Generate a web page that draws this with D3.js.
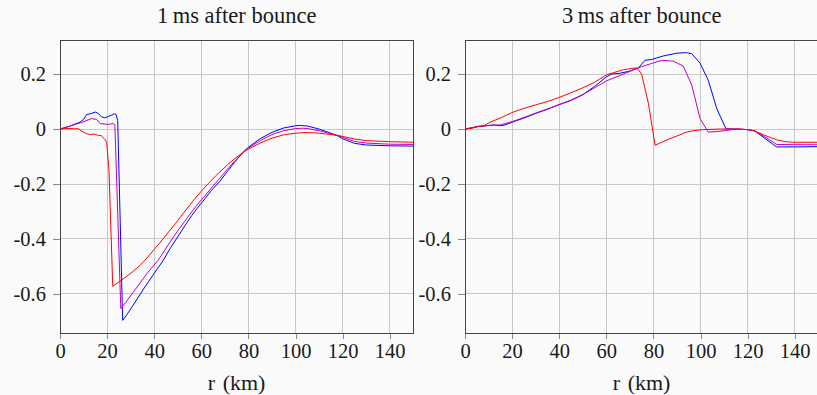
<!DOCTYPE html>
<html>
<head>
<meta charset="utf-8">
<script src="https://cdn.jsdelivr.net/npm/d3@7"></script>
<style>
  html, body { margin: 0; padding: 0; background: #fafafa; }
  svg { display: block; }
</style>
</head>
<body>
<svg id="chart" width="817" height="395"></svg>
<script>
// ---------- data ----------
const panelTitles = ["1\u2009ms after bounce", "3\u2009ms after bounce"];
const xTicks = [0, 20, 40, 60, 80, 100, 120, 140];
const yTicks = [0.2, 0, -0.2, -0.4, -0.6];
const xLabel = "r (km)";
const seriesColors = ["#0000ff", "#bf00bf", "#ff0000"];

// 1 ms after bounce  [r (km), value]
const left_blue = [[0,0],[2,0.005],[4,0.01],[6,0.017],[8.5,0.025],[10,0.035],[11.3,0.053],[13,0.056],[15.2,0.062],[16.3,0.056],[17.7,0.044],[19,0.041],[20.5,0.046],[21.8,0.05],[23.1,0.056],[23.8,0.053],[24.5,0.03],[26.6,-0.696],[28,-0.68],[30,-0.655],[33,-0.615],[36,-0.575],[40,-0.525],[43.9,-0.477],[46.7,-0.435],[50,-0.392],[53,-0.352],[56,-0.314],[59,-0.28],[61.6,-0.253],[64,-0.226],[67.9,-0.19],[71,-0.155],[74,-0.122],[77.8,-0.084],[80,-0.066],[85,-0.035],[90,-0.012],[95,0.004],[100,0.012],[102,0.013],[105,0.011],[110,0.0],[115,-0.015],[117.5,-0.023],[120,-0.035],[125,-0.052],[130,-0.058],[140,-0.061],[150,-0.062]];
const left_magenta = [[0,0],[2,0.005],[4,0.01],[6,0.016],[8.5,0.022],[11,0.03],[13.4,0.038],[15.5,0.035],[17,0.02],[19,0.018],[20.5,0.017],[22.6,0.02],[23.3,0.015],[25.8,-0.653],[28,-0.63],[31,-0.595],[34,-0.56],[37,-0.525],[41.7,-0.477],[44,-0.447],[46.7,-0.411],[50,-0.37],[53,-0.335],[56,-0.3],[59,-0.268],[62,-0.238],[65,-0.207],[68,-0.177],[71,-0.147],[74,-0.118],[77.8,-0.084],[80,-0.069],[85,-0.042],[90,-0.02],[95,-0.006],[100,0.002],[103,0.003],[105,0.002],[110,-0.006],[115,-0.017],[118,-0.024],[120,-0.03],[125,-0.045],[130,-0.051],[140,-0.055],[150,-0.056]];
const left_red = [[0,0],[3,0.002],[6,0.001],[7.8,0.001],[9.9,-0.011],[11.3,-0.017],[13,-0.02],[14.5,-0.018],[16.3,-0.023],[17.5,-0.024],[18.8,-0.035],[19.8,-0.047],[20.8,-0.15],[22.4,-0.572],[25,-0.556],[28,-0.538],[31,-0.518],[34,-0.496],[36.1,-0.477],[38,-0.458],[40,-0.438],[42,-0.418],[44,-0.397],[46.7,-0.368],[49,-0.344],[52,-0.31],[55,-0.278],[57.3,-0.253],[60,-0.226],[63,-0.198],[66,-0.171],[67.9,-0.156],[71,-0.131],[74,-0.109],[77.8,-0.084],[80,-0.073],[85,-0.051],[90,-0.033],[95,-0.021],[100,-0.015],[103,-0.013],[106,-0.013],[110,-0.015],[115,-0.02],[118,-0.023],[120,-0.027],[125,-0.036],[130,-0.042],[140,-0.046],[150,-0.048]];

// 3 ms after bounce  [r (km), value]
const right_blue = [[0,0],[3,0.005],[6,0.01],[9,0.012],[12,0.015],[15,0.012],[17,0.015],[20,0.025],[25,0.04],[30,0.057],[35,0.072],[40.3,0.09],[45,0.105],[50,0.125],[55,0.155],[57.3,0.171],[60,0.19],[62.3,0.2],[65.8,0.203],[70,0.211],[73.6,0.222],[76.4,0.25],[79.3,0.253],[84.2,0.266],[89.9,0.276],[94,0.278],[96.3,0.274],[99.8,0.24],[103.3,0.177],[106.9,0.074],[110.8,0.001],[115.4,0.0],[120,-0.002],[123.1,-0.007],[127,-0.032],[132.3,-0.065],[140,-0.065],[150,-0.064]];
const right_magenta = [[0,0],[3,0.005],[6,0.01],[9,0.012],[12,0.014],[15,0.015],[20,0.027],[25,0.042],[30,0.058],[35,0.073],[40.3,0.09],[45,0.104],[50,0.125],[55,0.15],[60,0.175],[62.3,0.183],[65.8,0.195],[70,0.21],[74.3,0.225],[79,0.238],[83.5,0.25],[88.5,0.247],[92.7,0.229],[96.3,0.159],[99.8,0.038],[103.3,-0.011],[107,-0.009],[111.1,-0.005],[115.4,0.0],[120,-0.002],[123.1,-0.007],[127,-0.027],[132.3,-0.056],[140,-0.057],[150,-0.057]];
const right_red = [[0,0],[3,0.003],[6,0.01],[8,0.012],[10.6,0.025],[15,0.04],[20.5,0.062],[25,0.075],[30,0.088],[35,0.1],[40.3,0.116],[45,0.132],[50,0.15],[55,0.17],[60.2,0.198],[63,0.205],[67.3,0.216],[72.9,0.223],[75,0.2],[77.9,0.092],[80.7,-0.059],[84,-0.046],[87,-0.035],[90,-0.025],[94.1,-0.011],[97,-0.006],[101.2,-0.002],[108.3,0.0],[115.4,0.0],[120,-0.002],[123.1,-0.007],[127,-0.022],[132.3,-0.039],[136,-0.046],[139.4,-0.048],[150,-0.048]];

const panelSeries = [
  [left_blue, left_magenta, left_red],
  [right_blue, right_magenta, right_red]
];

// ---------- layout ----------
const FONT = "Liberation Serif, Times New Roman, Tinos, DejaVu Serif, serif";
const svg = d3.select("#chart");
const plotTop = 40, plotBottom = 333;
const panelLefts = [60, 465];
const plotWidth = 353.3;
const xDomain = [0, 150];
const yDomain = [-0.742, 0.324];

const fmtY = v => v === 0 ? "0" : (v < 0 ? "-" : "") + Math.abs(v).toFixed(1);

panelSeries.forEach((series, p) => {
  const x0 = panelLefts[p];
  const x = d3.scaleLinear().domain(xDomain).range([x0, x0 + plotWidth]);
  const y = d3.scaleLinear().domain(yDomain).range([plotBottom, plotTop]);
  const g = svg.append("g");

  const clipId = "clip" + p;
  svg.append("defs").append("clipPath").attr("id", clipId)
    .append("rect").attr("x", x0).attr("y", plotTop)
    .attr("width", plotWidth).attr("height", plotBottom - plotTop);

  // grid
  const grid = g.append("g").attr("shape-rendering", "crispEdges")
    .attr("stroke", "#c8c8c8").attr("stroke-width", 1);
  xTicks.forEach(t => {
    grid.append("line").attr("x1", x(t)).attr("x2", x(t))
      .attr("y1", plotTop).attr("y2", plotBottom);
  });
  yTicks.forEach(t => {
    grid.append("line").attr("x1", x0).attr("x2", x0 + plotWidth)
      .attr("y1", y(t)).attr("y2", y(t));
  });

  // axes (outer ticks)
  const xAxis = d3.axisBottom(x).tickValues(xTicks).tickSize(6).tickPadding(4)
    .tickFormat(d => String(d));
  const gx = g.append("g").attr("transform", `translate(0,${plotBottom})`).call(xAxis);
  const yAxis = d3.axisLeft(y).tickValues(yTicks).tickSize(7).tickPadding(7)
    .tickFormat(fmtY);
  const gy = g.append("g").attr("transform", `translate(${x0},0)`).call(yAxis);
  [gx, gy].forEach(a => {
    a.attr("font-family", FONT).attr("font-size", 20.5);
    a.select(".domain").remove();
    a.selectAll(".tick line").attr("stroke", "#888").attr("shape-rendering", "crispEdges");
    a.selectAll(".tick text").attr("fill", "#1a1a1a");
  });
  gx.selectAll(".tick text").attr("dy", "0.75em");
  gy.selectAll(".tick text").attr("dy", "0.33em");

  // lines
  const line = d3.line().x(d => x(d[0])).y(d => y(d[1]));
  const lg = g.append("g").attr("clip-path", `url(#${clipId})`);
  series.forEach((s, i) => {
    lg.append("path").datum(s).attr("d", line)
      .attr("fill", "none").attr("stroke", seriesColors[i])
      .attr("stroke-width", 1).attr("stroke-linejoin", "round");
  });

  // frame
  g.append("rect").attr("x", x0).attr("y", plotTop)
    .attr("width", plotWidth).attr("height", plotBottom - plotTop)
    .attr("fill", "none").attr("stroke", "#444").attr("stroke-width", 1)
    .attr("shape-rendering", "crispEdges");

  // title and x label
  const cx = x0 + plotWidth / 2;
  g.append("text").attr("x", cx).attr("y", 23).attr("text-anchor", "middle")
    .attr("font-family", FONT).attr("font-size", 22.5).attr("fill", "#1a1a1a")
    .text(panelTitles[p]);
  g.append("text").attr("x", cx).attr("y", 390).attr("text-anchor", "middle")
    .attr("font-family", FONT).attr("font-size", 22).attr("fill", "#1a1a1a")
    .attr("word-spacing", 2)
    .text(xLabel);
});
</script>
</body>
</html>
